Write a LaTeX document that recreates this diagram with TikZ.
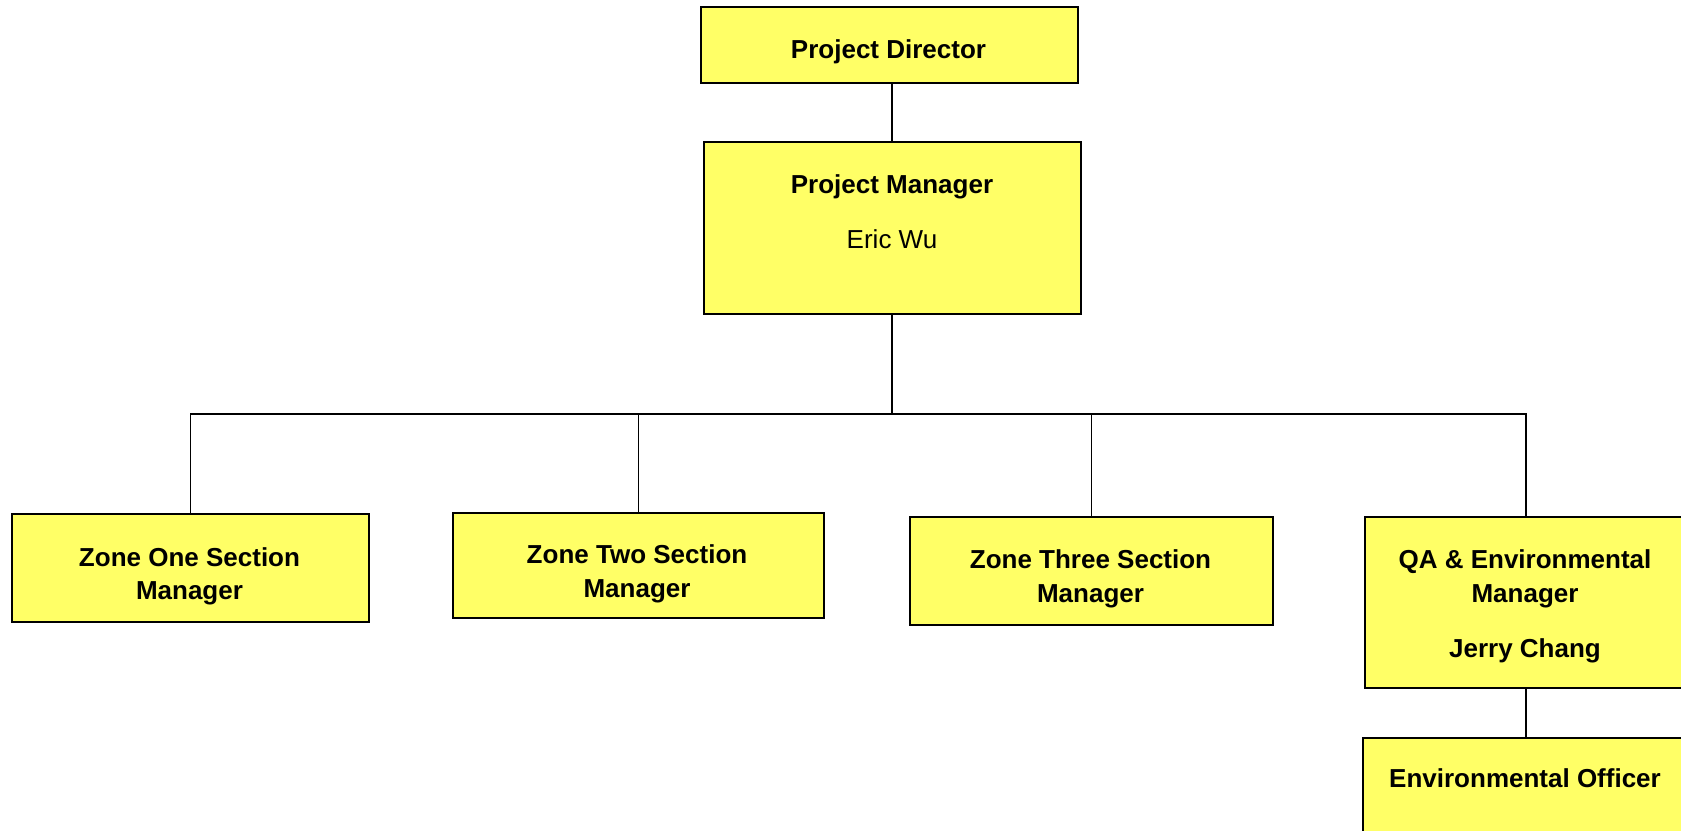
\documentclass[tikz,border=0pt]{standalone}
\usepackage{fontspec}
\setmainfont{Liberation Sans}
\begin{document}
\begin{tikzpicture}[x=1pt,y=-1pt,
  box/.style={draw=black,line width=1.8pt,fill=boxyellow,rectangle,inner sep=0pt,anchor=north west},
  lbl/.style={font=\fontsize{26}{33.5}\selectfont\bfseries,align=center,anchor=base,inner sep=0pt},
  lblr/.style={font=\fontsize{26}{33.5}\selectfont,align=center,anchor=base,inner sep=0pt},
  link/.style={draw=black,line width=1.8pt}]
\definecolor{boxyellow}{RGB}{255,255,102}
\useasboundingbox (0,0) rectangle (1681,830);
\clip (0,0) rectangle (1681,830);
% boxes
\node[box,minimum width=377pt,minimum height=76pt] (pd) at (700,6) {};
\node[box,minimum width=377pt,minimum height=172pt] (pm) at (703,141) {};
\node[box,minimum width=357pt,minimum height=108pt] (z1) at (11,513) {};
\node[box,minimum width=371pt,minimum height=105pt] (z2) at (452,512) {};
\node[box,minimum width=363pt,minimum height=108pt] (z3) at (909,516) {};
\node[box,minimum width=322pt,minimum height=171pt] (qa) at (1364,516) {};
\node[box,minimum width=326pt,minimum height=110pt] (eo) at (1362,737) {};
% labels (base anchor of a multi-line label = last line)
\node[lbl] (tpd) at (888.5,58) {Project Director};
\node[lbl] (tpm) at (892,193) {Project Manager};
\node[lblr] (tpm2) at (892,248) {Eric Wu};
\node[lbl] (tz1) at (189.5,599.5) {Zone One Section\\Manager};
\node[lbl] (tz2) at (637,597) {Zone Two Section\\Manager};
\node[lbl] (tz3) at (1090.5,602) {Zone Three Section\\Manager};
\node[lbl] (tqa) at (1525,602) {QA \& Environmental\\Manager};
\node[lbl] (tqa2) at (1525,657) {Jerry Chang};
\node[lbl] (teo) at (1525,787) {Environmental Officer};
% connectors
\coordinate (bus) at (892,414);
\draw[link] (pd.south -| bus) -- (pm.north -| bus);
\draw[link] (pm.south -| bus) -- (bus);
\draw[link] (z1.north) |- (bus) -| (qa.north);
\draw[link] (z2.north) -- (z2.north |- bus);
\draw[link] (z3.north) -- (z3.north |- bus);
\draw[link] (qa.south) -- (eo.north);
\end{tikzpicture}
\end{document}
